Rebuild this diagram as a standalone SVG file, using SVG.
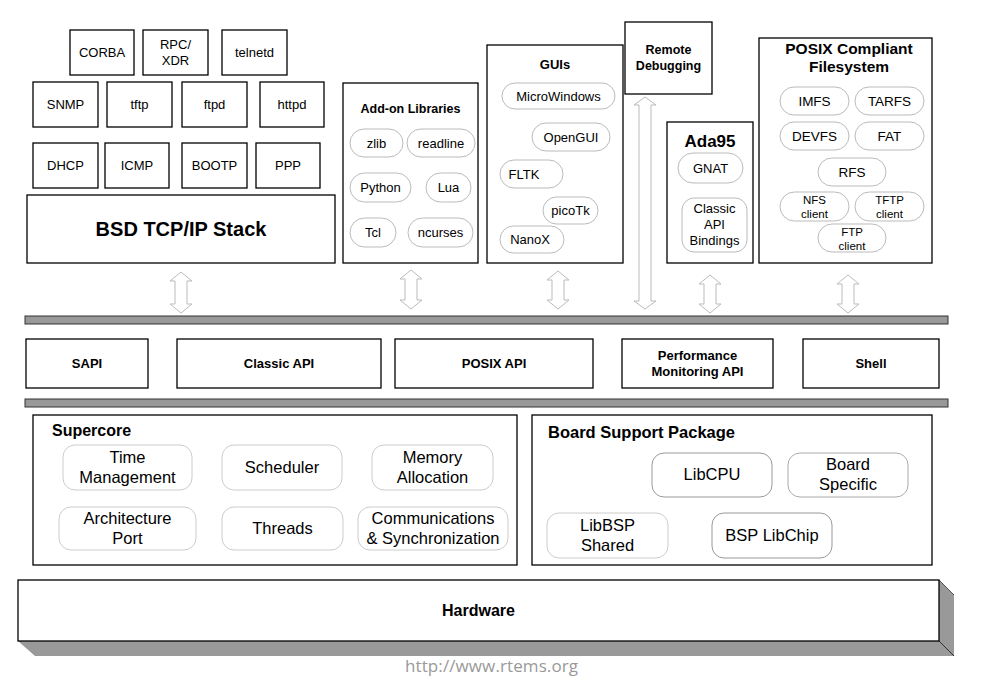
<svg xmlns="http://www.w3.org/2000/svg" width="982" height="685" viewBox="0 0 982 685">
<style>
text{font-family:"Liberation Sans",Arial,sans-serif;fill:#000;text-anchor:middle}
.box{fill:#fff;stroke:#000;stroke-width:1.3}
.pill{fill:#fff;stroke:#bbb;stroke-width:1}
.t13{font-size:13px}
.t12{font-size:11.5px}
.b13{font-size:13px;font-weight:bold}
.t16{font-size:16.5px}
.bar{fill:#999;stroke:#333;stroke-width:1}
.arr{fill:#fff;stroke:#bbb;stroke-width:1}
</style>
<rect width="982" height="685" fill="#fff"/>

<!-- network services -->
<g id="corba"><rect class="box" x="70" y="30" width="64" height="45"/><text class="t13" x="102" y="57">CORBA</text></g>
<g id="rpcxdr"><rect class="box" x="143" y="30" width="65" height="45"/><text class="t13" x="175.5" y="49">RPC/</text><text class="t13" x="175.5" y="65">XDR</text></g>
<g id="telnetd"><rect class="box" x="222" y="30" width="65" height="45"/><text class="t13" x="254.5" y="57">telnetd</text></g>
<g id="snmp"><rect class="box" x="33" y="82" width="65" height="45"/><text class="t13" x="65.5" y="109">SNMP</text></g>
<g id="tftp"><rect class="box" x="107" y="82" width="65" height="45"/><text class="t13" x="139.5" y="109">tftp</text></g>
<g id="ftpd"><rect class="box" x="182" y="82" width="65" height="45"/><text class="t13" x="214.5" y="109">ftpd</text></g>
<g id="httpd"><rect class="box" x="260" y="82" width="64" height="45"/><text class="t13" x="292" y="109">httpd</text></g>
<g id="dhcp"><rect class="box" x="33" y="143" width="65" height="45"/><text class="t13" x="65.5" y="170">DHCP</text></g>
<g id="icmp"><rect class="box" x="105" y="143" width="64" height="45"/><text class="t13" x="137" y="170">ICMP</text></g>
<g id="bootp"><rect class="box" x="182" y="143" width="65" height="45"/><text class="t13" x="214.5" y="170">BOOTP</text></g>
<g id="ppp"><rect class="box" x="256" y="143" width="64" height="45"/><text class="t13" x="288" y="170">PPP</text></g>
<g id="bsd"><rect class="box" x="27" y="195" width="308" height="68"/><text x="181" y="236" style="font-size:20px;font-weight:bold">BSD TCP/IP Stack</text></g>

<!-- add-on libraries -->
<g id="addon">
<rect class="box" x="343" y="83" width="135" height="180"/>
<text x="410.5" y="113" style="font-size:12.5px;font-weight:bold">Add-on Libraries</text>
<rect class="pill" x="350" y="129" width="53" height="28" rx="14"/><text class="t13" x="376.5" y="147.5">zlib</text>
<rect class="pill" x="407" y="129" width="68" height="28" rx="14"/><text class="t13" x="441" y="147.5">readline</text>
<rect class="pill" x="350" y="173" width="61" height="29" rx="14.5"/><text class="t13" x="380.5" y="192">Python</text>
<rect class="pill" x="426" y="173" width="45" height="29" rx="14.5"/><text class="t13" x="448.5" y="192">Lua</text>
<rect class="pill" x="350" y="218" width="46" height="29" rx="14.5"/><text class="t13" x="373" y="237">Tcl</text>
<rect class="pill" x="408" y="218" width="65" height="29" rx="14.5"/><text class="t13" x="440.5" y="237">ncurses</text>
</g>

<!-- GUIs -->
<g id="guis">
<rect class="box" x="487" y="45" width="136" height="218"/>
<text class="b13" x="555" y="69">GUIs</text>
<rect class="pill" x="502" y="83" width="113" height="26" rx="13"/><text class="t13" x="558.5" y="100.5">MicroWindows</text>
<rect class="pill" x="532" y="123" width="78" height="28" rx="14"/><text class="t13" x="571" y="141.5">OpenGUI</text>
<rect class="pill" x="500" y="160" width="63" height="28" rx="14"/><text class="t13" x="524" y="178.5">FLTK</text>
<rect class="pill" x="543" y="197" width="55" height="27" rx="13.5"/><text class="t13" x="570.5" y="215">picoTk</text>
<rect class="pill" x="500" y="226" width="64" height="27" rx="13.5"/><text class="t13" x="530" y="244">NanoX</text>
</g>

<!-- Remote debugging -->
<g id="remote">
<rect class="box" x="625" y="22" width="87" height="72"/>
<text x="668.5" y="54" style="font-size:12.5px;font-weight:bold">Remote</text>
<text x="668.5" y="70" style="font-size:12.5px;font-weight:bold">Debugging</text>
</g>

<!-- Ada95 -->
<g id="ada95">
<rect class="box" x="667" y="122" width="86" height="141"/>
<text x="710" y="147" style="font-size:17px;font-weight:bold">Ada95</text>
<rect class="pill" x="678" y="153" width="65" height="30" rx="15"/><text class="t13" x="710.5" y="173">GNAT</text>
<rect class="pill" x="682" y="198" width="65" height="54" rx="12"/>
<text class="t13" x="714.5" y="213">Classic</text><text class="t13" x="714.5" y="229">API</text><text class="t13" x="714.5" y="245">Bindings</text>
</g>

<!-- POSIX filesystem -->
<g id="posixfs">
<rect class="box" x="759" y="38" width="173" height="225"/>
<text x="849" y="54" style="font-size:15.5px;font-weight:bold">POSIX Compliant</text>
<text x="849" y="72" style="font-size:15.5px;font-weight:bold">Filesystem</text>
<rect class="pill" x="780" y="87" width="69" height="28" rx="14"/><text x="814.5" y="106" style="font-size:13.5px">IMFS</text>
<rect class="pill" x="855" y="87" width="69" height="28" rx="14"/><text x="889.5" y="106" style="font-size:13.5px">TARFS</text>
<rect class="pill" x="780" y="122" width="69" height="28" rx="14"/><text x="814.5" y="141" style="font-size:13.5px">DEVFS</text>
<rect class="pill" x="855" y="122" width="69" height="28" rx="14"/><text x="889.5" y="141" style="font-size:13.5px">FAT</text>
<rect class="pill" x="818" y="158" width="68" height="28" rx="14"/><text x="852" y="177" style="font-size:13.5px">RFS</text>
<rect class="pill" x="780" y="192" width="69" height="29" rx="14.5"/><text class="t12" x="814.5" y="204">NFS</text><text class="t12" x="814.5" y="217.5">client</text>
<rect class="pill" x="855" y="192" width="69" height="29" rx="14.5"/><text class="t12" x="889.5" y="204">TFTP</text><text class="t12" x="889.5" y="217.5">client</text>
<rect class="pill" x="818" y="224" width="68" height="28" rx="14"/><text class="t12" x="852" y="236">FTP</text><text class="t12" x="852" y="249.5">client</text>
</g>

<!-- connectors -->
<g id="connectors">
<path class="arr" d="M181,272 L192,281 L187,281 L187,304 L192,304 L181,313 L170,304 L175,304 L175,281 L170,281 Z"/>
<path class="arr" d="M411,270 L422,279 L417,279 L417,300 L422,300 L411,309 L400,300 L405,300 L405,279 L400,279 Z"/>
<path class="arr" d="M558,271 L569,280 L564,280 L564,300 L569,300 L558,309 L547,300 L552,300 L552,280 L547,280 Z"/>
<path class="arr" d="M645,97 L656,105 L651,105 L651,301 L656,301 L645,309 L634,301 L639,301 L639,105 L634,105 Z"/>
<path class="arr" d="M710,275 L721,284 L716,284 L716,304 L721,304 L710,313 L699,304 L704,304 L704,284 L699,284 Z"/>
<path class="arr" d="M848,275 L859,284 L854,284 L854,304 L859,304 L848,313 L837,304 L842,304 L842,284 L837,284 Z"/>
</g>

<!-- bars -->
<g id="bar-top"><rect class="bar" x="25" y="316" width="923" height="8"/></g>
<g id="bar-bottom"><rect class="bar" x="25" y="399" width="923" height="8"/></g>

<!-- API row -->
<g id="sapi"><rect class="box" x="26" y="339" width="122" height="49"/><text class="b13" x="87" y="368">SAPI</text></g>
<g id="classicapi"><rect class="box" x="177" y="339" width="204" height="49"/><text class="b13" x="279" y="368">Classic API</text></g>
<g id="posixapi"><rect class="box" x="395" y="339" width="198" height="49"/><text class="b13" x="494" y="368">POSIX API</text></g>
<g id="perfapi"><rect class="box" x="622" y="339" width="151" height="49"/><text class="b13" x="697.5" y="360">Performance</text><text class="b13" x="697.5" y="376">Monitoring API</text></g>
<g id="shell"><rect class="box" x="803" y="339" width="136" height="49"/><text class="b13" x="871" y="368">Shell</text></g>

<!-- Supercore -->
<g id="supercore">
<rect class="box" x="33" y="415" width="484" height="150"/>
<text x="52" y="436" style="font-size:16px;font-weight:bold;text-anchor:start">Supercore</text>
<rect class="pill" x="63" y="445" width="129" height="45" rx="12" style="stroke:#ccc"/><text class="t16" x="127.5" y="463">Time</text><text class="t16" x="127.5" y="483">Management</text>
<rect class="pill" x="222" y="445" width="120" height="45" rx="12" style="stroke:#ccc"/><text class="t16" x="282" y="473">Scheduler</text>
<rect class="pill" x="372" y="445" width="121" height="45" rx="12" style="stroke:#ccc"/><text class="t16" x="432.5" y="463">Memory</text><text class="t16" x="432.5" y="483">Allocation</text>
<rect class="pill" x="59" y="507" width="137" height="43" rx="12" style="stroke:#ccc"/><text class="t16" x="127.5" y="524">Architecture</text><text class="t16" x="127.5" y="544">Port</text>
<rect class="pill" x="222" y="507" width="121" height="43" rx="12" style="stroke:#ccc"/><text class="t16" x="282.5" y="534">Threads</text>
<rect class="pill" x="358" y="507" width="150" height="43" rx="12" style="stroke:#ccc"/><text class="t16" x="433" y="524">Communications</text><text class="t16" x="433" y="544">&amp; Synchronization</text>
</g>

<!-- BSP -->
<g id="bsp">
<rect class="box" x="532" y="415" width="400" height="150"/>
<text x="548" y="438" style="font-size:16.5px;font-weight:bold;text-anchor:start">Board Support Package</text>
<rect class="pill" x="652" y="453" width="120" height="44" rx="12" style="stroke:#999"/><text class="t16" x="712" y="480">LibCPU</text>
<rect class="pill" x="788" y="453" width="120" height="44" rx="12" style="stroke:#aaa"/><text class="t16" x="848" y="470">Board</text><text class="t16" x="848" y="490">Specific</text>
<rect class="pill" x="547" y="513" width="121" height="45" rx="12" style="stroke:#ccc"/><text class="t16" x="607.5" y="531">LibBSP</text><text class="t16" x="607.5" y="551">Shared</text>
<rect class="pill" x="712" y="513" width="120" height="45" rx="12" style="stroke:#999"/><text class="t16" x="772" y="541">BSP LibChip</text>
</g>

<!-- Hardware -->
<g id="hardware">
<polygon points="18,641 939,641 939,580 954,595 954,656 35,656" fill="#999" stroke="none"/>
<line x1="939" y1="641" x2="954" y2="656" stroke="#333" stroke-width="1"/>
<line x1="939" y1="580" x2="954" y2="595" stroke="#555" stroke-width="1"/>
<rect class="box" x="18" y="580" width="921" height="61"/>
<text x="478.5" y="616" style="font-size:16px;font-weight:bold">Hardware</text>
</g>

<text x="491.5" y="672" textLength="173" style="font-family:'Open Sans','Noto Sans',sans-serif;font-size:17px;fill:#999">http://www.rtems.org</text>
</svg>
